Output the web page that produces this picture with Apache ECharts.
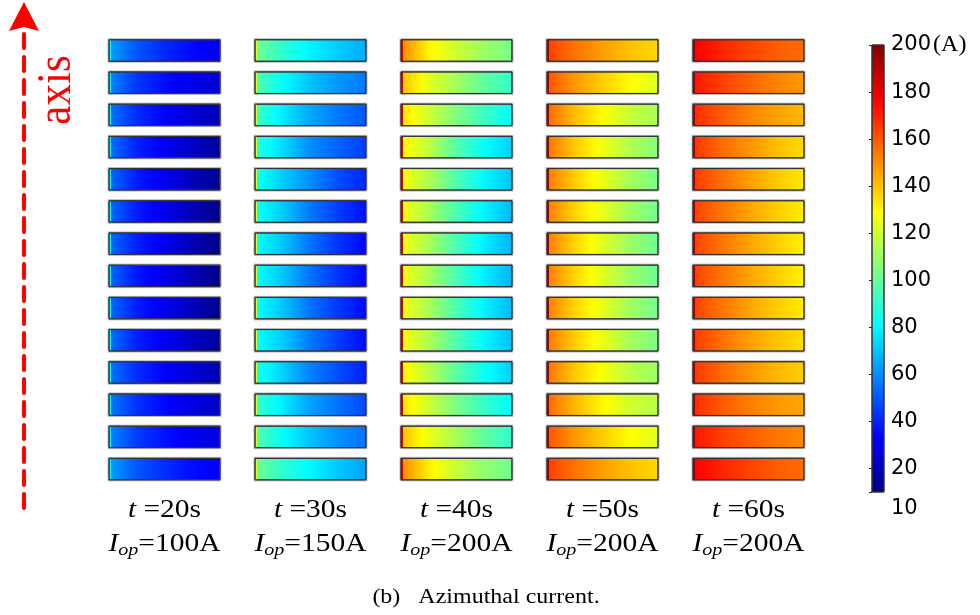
<!DOCTYPE html>
<html>
<head>
<meta charset="utf-8">
<script src="https://cdn.jsdelivr.net/npm/echarts@6/dist/echarts.min.js"></script>
<style>
html,body{margin:0;padding:0;background:#fff;}
#main{width:980px;height:615px;}
</style>
</head>
<body>
<div id="main"></div>
<script>
// ---------------- data ----------------
const times = [20, 30, 40, 50, 60];               // t (s)
const currents = [100, 150, 200, 200, 200];       // I_op (A)
const segments = [1,2,3,4,5,6,7,8,9,10,11,12,13,14]; // winding segments, top to bottom
const samplePos = [0.025, 0.25, 0.5, 0.75, 1.0];  // relative position along each bar
const edgeValues = [80, 124, 180, 196, 196];      // value at the inner edge strip, per time
const colorbarTicks = [10, 20, 40, 60, 80, 100, 120, 140, 160, 180, 200];
const colorMin = 10, colorMax = 200;

const values20s = [
  [63,50,41,35,32],[58,44,36,30,26],[55,42,34,26,20],[54,40,32,23,15],
  [53,39,31,21,13],[53,39,30,20,11],[53,40,31,20,11],[52,38,30,20,11],
  [53,39,31,21,12],[54,40,32,23,15],[55,42,34,26,19],[56,43,35,28,23],
  [58,45,37,31,28],[63,50,42,36,33]
];
const values30s = [
  [102,90,79,72,66],[96,82,70,62,56],[92,78,65,56,50],[87,75,60,52,45],
  [84,72,60,48,40],[83,72,56,45,36],[82,71,55,43,34],[82,71,55,43,34],
  [82,71,55,44,35],[82,72,56,45,35],[85,73,58,48,39],[91,78,64,55,47],
  [96,82,70,61,55],[102,90,80,71,64]
];
const values40s = [
  [150,131,119,110,103],[140,124,112,99,90],[134,120,105,92,81],[130,117,97,82,72],
  [128,114,96,80,70],[127,113,95,79,68],[127,113,95,78,67],[127,113,95,78,67],
  [127,113,95,79,68],[128,114,96,80,69],[130,116,98,83,72],[134,120,104,91,80],
  [140,125,112,99,90],[150,132,118,108,102]
];
const values50s = [
  [164,155,147,140,136],[160,148,138,129,122],[156,141,129,118,112],[154,139,126,114,106],
  [153,138,125,112,103],[152,137,124,111,102],[152,137,123,110,101],[152,137,123,110,101],
  [152,137,124,111,102],[153,138,125,112,104],[154,139,127,116,110],[156,142,130,120,115],
  [160,148,138,129,123],[164,155,147,140,136]
];
const values60s = [
  [177,170,164,159,156],[172,165,158,152,148],[168,160,152,146,142],[166,157,149,141,135],
  [165,156,147,139,133],[164,155,146,138,132],[164,155,146,138,131],[164,155,146,138,131],
  [164,155,146,138,132],[165,156,147,140,135],[166,157,149,142,138],[168,160,153,148,145],
  [172,165,159,154,151],[176,170,164,159,156]
];
const allValues = [values20s, values30s, values40s, values50s, values60s];

// ---------------- colour map (jet) ----------------
function clamp01(x){ return Math.max(0, Math.min(1, x)); }
function jet(v){
  const f = clamp01((v - colorMin) / (colorMax - colorMin));
  const r = clamp01(1.5 - Math.abs(4*f - 3));
  const g = clamp01(1.5 - Math.abs(4*f - 2));
  const b = clamp01(1.5 - Math.abs(4*f - 1));
  return 'rgb(' + Math.round(r*255) + ',' + Math.round(g*255) + ',' + Math.round(b*255) + ')';
}

// build series data from the arrays
const barData = [];
times.forEach((t, ci) => {
  allValues[ci].forEach((row, ri) => {
    barData.push([t, segments[ri], edgeValues[ci]].concat(row));
  });
});

const BAR_W = 7.6;   // in x-axis units
const BAR_H = 0.668; // in y-axis units
const EDGE_W = 0.018;

function barStops(edge, vals){
  const stops = [{offset: 0, color: jet(edge)}, {offset: EDGE_W, color: jet(edge)}];
  stops.push({offset: samplePos[0], color: jet(vals[0])});
  for (let k = 0; k < vals.length - 1; k++){
    const p0 = samplePos[k], p1 = samplePos[k+1];
    const n = 8;
    for (let j = 1; j <= n; j++){
      const a = j / n;
      stops.push({offset: p0 + (p1 - p0)*a, color: jet(vals[k] + (vals[k+1] - vals[k])*a)});
    }
  }
  return stops;
}

const chart = echarts.init(document.getElementById('main'), null, {renderer: 'canvas'});

const option = {
  backgroundColor: '#ffffff',
  animation: false,
  grid: [
    {left: 91.5, width: 730, top: 34.4, height: 450.8},
    {left: 872, width: 12, top: 45, height: 447}
  ],
  xAxis: [
    {gridIndex: 0, type: 'value', min: 15, max: 65, show: false},
    {gridIndex: 1, type: 'value', min: 0, max: 1, show: false}
  ],
  yAxis: [
    {gridIndex: 0, type: 'value', min: 0.5, max: 14.5, inverse: true, show: false},
    {
      gridIndex: 1, type: 'value', min: colorMin, max: colorMax, position: 'right',
      axisLine: {show: false},
      splitLine: {show: false},
      axisTick: {show: true, inside: true, length: 3, lineStyle: {color: '#222', width: 1}, customValues: colorbarTicks},
      axisLabel: {
        customValues: colorbarTicks,
        margin: 7,
        fontFamily: 'DejaVu Sans',
        fontSize: 21,
        color: '#000',
        formatter: function(v){
          if (v === colorMax) return v + '{u|(A)}';
          if (v === colorMin) return '{lo|' + v + '}';
          return String(v);
        },
        rich: {
          u: {fontFamily: 'Liberation Serif', fontSize: 24, color: '#000', padding: [0,0,0,2]},
          lo: {fontFamily: 'DejaVu Sans', fontSize: 21, color: '#000', padding: [34,0,0,0]}
        }
      }
    }
  ],
  series: [
    {
      type: 'custom',
      name: 'Azimuthal current',
      xAxisIndex: 0, yAxisIndex: 0,
      clip: false,
      encode: {x: 0, y: 1},
      data: barData,
      renderItem: function(params, api){
        const c = api.coord([api.value(0), api.value(1)]);
        const s = api.size([1, 1]);
        const w = s[0]*BAR_W, h = s[1]*BAR_H;
        const edge = api.value(2);
        const vals = [api.value(3), api.value(4), api.value(5), api.value(6), api.value(7)];
        const x = c[0] - w/2, y = c[1] - h/2;
        return {
          type: 'group',
          children: [
            {type: 'rect', shape: {x: x - 1, y: y - 1, width: w + 2, height: h + 2},
             style: {fill: 'none', stroke: '#b8b8b8', lineWidth: 1}},
            {type: 'rect', shape: {x: x, y: y, width: w, height: h},
             style: {fill: new echarts.graphic.LinearGradient(0, 0, 1, 0, barStops(edge, vals)),
                     stroke: '#333', lineWidth: 1}}
          ]
        };
      }
    },
    {
      type: 'custom',
      name: 'colorbar',
      xAxisIndex: 1, yAxisIndex: 1,
      clip: false,
      encode: {x: 0, y: 1},
      data: [[0, colorMin, colorMax]],
      renderItem: function(params, api){
        const p0 = api.coord([0, api.value(2)]);
        const p1 = api.coord([1, api.value(1)]);
        const stops = [];
        const n = 40;
        for (let i = 0; i <= n; i++){
          const v = colorMax - (colorMax - colorMin) * i / n;
          stops.push({offset: i/n, color: jet(v)});
        }
        return {
          type: 'rect',
          shape: {x: p0[0], y: p0[1], width: p1[0] - p0[0], height: p1[1] - p0[1]},
          style: {fill: new echarts.graphic.LinearGradient(0, 0, 0, 1, stops), stroke: '#333', lineWidth: 1}
        };
      }
    }
  ]
};
chart.setOption(option);

// ---------------- annotations ----------------
const serif = 'Liberation Serif';
const graphics = [];
times.forEach((t, i) => {
  const px = chart.convertToPixel({xAxisIndex: 0}, t);
  graphics.push({
    type: 'text', x: px, y: 510, scaleX: 1.18, silent: true,
    style: {
      text: '{it|t} =' + t + 's',
      fontFamily: serif, fontSize: 25, fill: '#000', align: 'center', verticalAlign: 'middle',
      rich: {it: {fontFamily: serif, fontSize: 25, fontStyle: 'italic', fill: '#000'}}
    }
  });
  graphics.push({
    type: 'text', x: px, y: 544, scaleX: 1.18, silent: true,
    style: {
      text: '{i|I}{s|op}{n|=' + currents[i] + 'A}',
      fontFamily: serif, fontSize: 25, fill: '#000', align: 'center', verticalAlign: 'middle',
      rich: {
        i: {fontFamily: serif, fontSize: 25, fontStyle: 'italic', lineHeight: 30, fill: '#000'},
        s: {fontFamily: serif, fontSize: 17, fontStyle: 'italic', lineHeight: 17, verticalAlign: 'bottom', fill: '#000'},
        n: {fontFamily: serif, fontSize: 25, lineHeight: 30, fill: '#000'}
      }
    }
  });
});
// axis arrow
graphics.push({
  type: 'line', silent: true,
  shape: {x1: 24, y1: 508, x2: 24, y2: 30},
  style: {stroke: '#ff0000', lineWidth: 4, lineDash: [14, 9], lineCap: 'round'}
});
graphics.push({
  type: 'polygon', silent: true,
  shape: {points: [[24, 2], [39, 31], [24, 27], [9, 31]]},
  style: {fill: '#ff0000'}
});
graphics.push({
  type: 'text', x: 57, y: 90, rotation: Math.PI/2, scaleY: 1.15, silent: true,
  style: {text: 'axis', fontFamily: serif, fontSize: 43, fill: '#ff0000', align: 'center', verticalAlign: 'middle'}
});
// caption
graphics.push({
  type: 'text', x: 486, y: 598, scaleX: 1.2, silent: true,
  style: {text: '(b)   Azimuthal current.', fontFamily: serif, fontSize: 20, fill: '#000', align: 'center', verticalAlign: 'middle'}
});
chart.setOption({graphic: graphics});
</script>
</body>
</html>
